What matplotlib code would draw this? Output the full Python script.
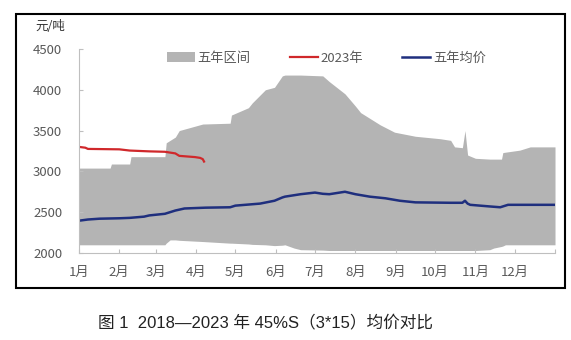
import numpy as np
import matplotlib
matplotlib.use("Agg")
from matplotlib import pyplot as plt
from matplotlib.patches import Rectangle

plt.rcParams['font.family'] = ['Noto Sans CJK SC', 'DejaVu Sans']

# day of year for the five-year band, with its max and min
band_day = [0, 24, 25, 39, 40, 66, 67, 70, 74, 77, 95, 116, 117, 130, 133, 143, 150, 156, 158,
            165, 170, 187, 192, 196, 204, 212, 216, 223, 231, 242, 258, 277, 285, 288, 294, 296,
            298, 304, 315, 318, 324, 325, 327, 338, 346, 365]
band_hi = [3040, 3040, 3090, 3090, 3180, 3180, 3350, 3380, 3420, 3500, 3580, 3590, 3690, 3780,
           3840, 4000, 4030, 4170, 4180, 4180, 4180, 4170, 4100, 4050, 3950, 3800, 3720, 3650,
           3570, 3480, 3430, 3400, 3380, 3300, 3290, 3500, 3200, 3160, 3150, 3150, 3150, 3230,
           3235, 3260, 3300, 3300]
band_lo = [2100, 2100, 2100, 2100, 2100, 2100, 2120, 2160, 2160, 2155, 2140, 2120, 2120, 2110,
           2105, 2100, 2090, 2095, 2100, 2060, 2040, 2035, 2030, 2030, 2030, 2030, 2030, 2030,
           2030, 2030, 2030, 2030, 2030, 2030, 2030, 2030, 2030, 2030, 2040, 2060, 2080, 2085,
           2100, 2100, 2100, 2100]

# five-year average
avg_day = [0, 7, 16, 31, 39, 50, 54, 60, 66, 74, 81, 97, 116, 120, 139, 150, 156, 158, 170, 181,
           187, 192, 204, 212, 223, 235, 246, 258, 285, 294, 296, 298, 300, 315, 323, 329, 365]
avg_val = [2395, 2410, 2420, 2425, 2430, 2445, 2460, 2470, 2480, 2520, 2545, 2555, 2560, 2580,
           2605, 2640, 2680, 2690, 2720, 2740, 2725, 2720, 2750, 2720, 2690, 2670, 2640, 2620,
           2615, 2615, 2640, 2605, 2590, 2570, 2560, 2590, 2590]

# 2023
y23_day = [0, 5, 7, 31, 39, 54, 66, 74, 77, 89, 93, 95, 96]
y23_val = [3300, 3290, 3275, 3270, 3255, 3245, 3240, 3220, 3190, 3175, 3165, 3150, 3120]

month_day = [0, 31, 59, 90, 120, 151, 181, 212, 243, 273, 304, 334, 365]
month_lbl = ['1月', '2月', '3月', '4月', '5月', '6月', '7月', '8月', '9月', '10月', '11月', '12月', '']

gray_txt = '#595959'

fig = plt.figure(figsize=(5.71, 3.40), dpi=100)
ax = fig.add_axes([0.138, 0.256, 0.834, 0.600])

ax.fill_between(band_day, band_lo, band_hi, color='#b4b4b4', lw=0, label='五年区间')
ax.plot(y23_day, y23_val, color='#d0282b', lw=1.6, label='2023年')
ax.plot(avg_day, avg_val, color='#1f2f7e', lw=1.8, label='五年均价')

ax.set_xlim(0, 365)
ax.set_ylim(2000, 4500)
ax.set_yticks([2000, 2500, 3000, 3500, 4000, 4500])
ax.set_xticks(month_day)
ax.set_xticklabels(month_lbl)
ax.tick_params(axis='both', direction='in', length=3, color='#bfbfbf', labelcolor=gray_txt,
               labelsize=9.5)
ax.tick_params(axis='y', pad=12)
ax.tick_params(axis='x', pad=9)
for s in ['top', 'right']:
    ax.spines[s].set_visible(False)
for s in ['left', 'bottom']:
    ax.spines[s].set_color('#bfbfbf')

leg = ax.legend(loc='upper center', bbox_to_anchor=(0.52, 1.045), ncol=3, frameon=False,
                fontsize=9.5, handlelength=2.1, handletextpad=0.2, columnspacing=3.0)
for t in leg.get_texts():
    t.set_color(gray_txt)

fig.text(50 / 571, 1 - 27 / 340, '元/吨', fontsize=9, color='#333333', ha='center', va='center')

# outer frame around the chart
fig.patches.append(Rectangle((16 / 571, 1 - 288 / 340), 549 / 571, 274 / 340,
                             transform=fig.transFigure, fill=False, lw=1.5, ec='black'))

fig.text(265 / 571, 1 - 322 / 340, '图 1  2018—2023 年 45%S（3*15）均价对比', fontsize=12,
         family=['Liberation Sans', 'Noto Sans CJK SC'],
         color='#222222', ha='center', va='center')

plt.savefig('out.png', dpi=100)
